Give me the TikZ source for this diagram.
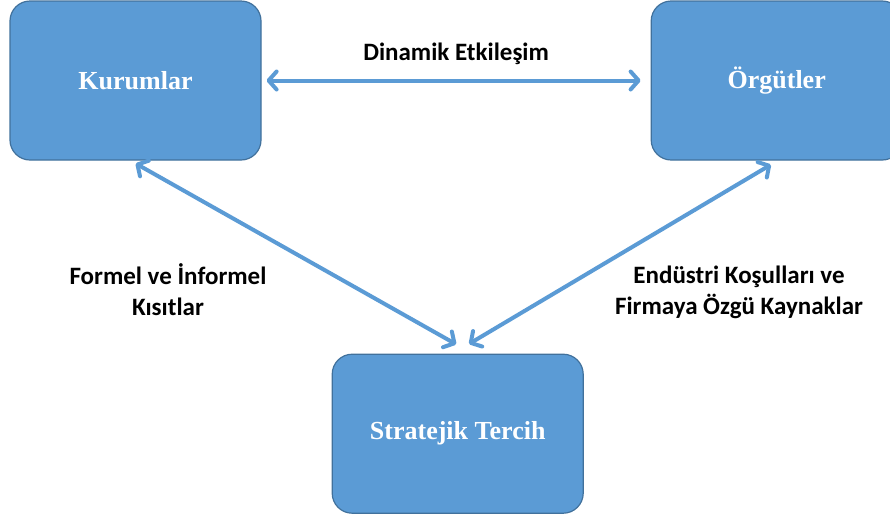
\documentclass[tikz,border=0pt]{standalone}
\usepackage{fontspec}
\setmainfont{Liberation Serif}
\newfontfamily\lblfont{Carlito}
\usepackage{xcolor}
\usetikzlibrary{arrows.meta,positioning}

\definecolor{boxblue}{HTML}{5B9BD5}
\definecolor{boxedge}{HTML}{41719C}

\begin{document}
\begin{tikzpicture}[
  x=1pt, y=-1pt,
  block/.style={draw=boxedge, line width=1.2pt, fill=boxblue, rounded corners=20pt,
    minimum width=251pt, minimum height=159pt, text=white,
    font=\fontsize{26}{30}\selectfont\bfseries},
  lbl/.style={align=center, font=\lblfont\fontsize{25}{31}\selectfont\bfseries},
  link/.style={{Straight Barb[length=8pt,width=18pt,round]}-{Straight Barb[length=8pt,width=18pt,round]},
    draw=boxblue, line width=4pt}
]
\clip (0,0) rectangle (890,515);

\node[block] (kur) at (135.5,80.5) {Kurumlar};
\node[block, right=389pt of kur] (org) {Örgütler};
\node[block, below right=193pt and 70pt of kur, anchor=north west] (str) {Stratejik Tercih};

\draw[link, shorten <=5pt, shorten >=10pt] (kur) -- node[lbl, yshift=27pt] (dyn) {Dinamik Etkileşim} (org);
\draw[link, shorten <=6pt, shorten >=19pt] ([xshift=-5pt]kur.south) -- ([xshift=15pt]str.north);
\draw[link, shorten <=8pt, shorten >=19pt] ([xshift=1pt]org.south) -- ([xshift=-5pt]str.north);

\node[lbl] (fik) at (168,290) {Formel ve İnformel\\Kısıtlar};
\node[lbl] (ekf) at (739,292) {Endüstri Koşulları ve\\Firmaya Özgü Kaynaklar};
\end{tikzpicture}
\end{document}
